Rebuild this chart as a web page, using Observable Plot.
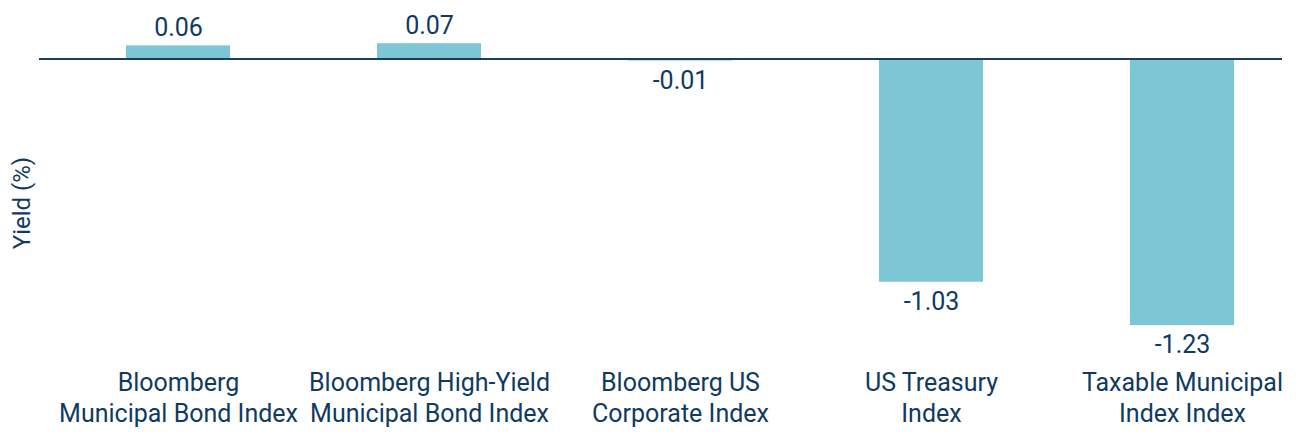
<!DOCTYPE html>
<html>
<head>
<meta charset="utf-8">
<script src="https://cdn.jsdelivr.net/npm/d3@7"></script>
<script src="https://cdn.jsdelivr.net/npm/@observablehq/plot@0.6"></script>
<style>
  html, body { margin: 0; padding: 0; background: #fff; }
</style>
</head>
<body>
<div id="chart"></div>
<script>
const categories = [
  "Bloomberg\nMunicipal Bond Index",
  "Bloomberg High-Yield\nMunicipal Bond Index",
  "Bloomberg US\nCorporate Index",
  "US Treasury\nIndex",
  "Taxable Municipal\nIndex Index"
];
const yields = [0.06, 0.07, -0.01, -1.03, -1.23];
const yAxisLabel = "Yield (%)";

const data = categories.map((c, i) => ({category: c, value: yields[i]}));
const navy = "#0f3a61";
const barColor = "#7cc6d6";

const chart = Plot.plot({
  width: 1300,
  height: 436,
  marginLeft: 39,
  marginRight: 18,
  marginTop: 15,
  marginBottom: 74,
  style: {fontFamily: "Roboto", color: navy, background: "#fff"},
  x: {domain: categories, paddingInner: 0.587, paddingOuter: 0.26, align: 0.64, label: null},
  y: {domain: [-1.4, 0.2], axis: null},
  marks: [
    Plot.barY(data, {x: "category", y: "value", fill: barColor}),
    Plot.ruleY([0], {stroke: "#1b3d5e", strokeWidth: 2}),
    Plot.text(data.filter(d => d.value >= 0), {
      x: "category", y: "value", text: d => d.value.toFixed(2),
      lineAnchor: "bottom", dy: -10, fontSize: 25, fill: navy
    }),
    Plot.text(data.filter(d => d.value < 0), {
      x: "category", y: "value", text: d => d.value.toFixed(2),
      lineAnchor: "top", dy: 10, fontSize: 25, fill: navy
    }),
    Plot.axisX({
      tickSize: 0, tickPadding: 7, fontSize: 25, lineHeight: 1.22,
      fill: navy, label: null
    }),
    Plot.text([yAxisLabel], {
      frameAnchor: "left", textAnchor: "middle", text: d => d, rotate: -90,
      dx: -17, dy: 14, fontSize: 24, fill: navy
    })
  ]
});
document.getElementById("chart").appendChild(chart);
</script>
</body>
</html>
